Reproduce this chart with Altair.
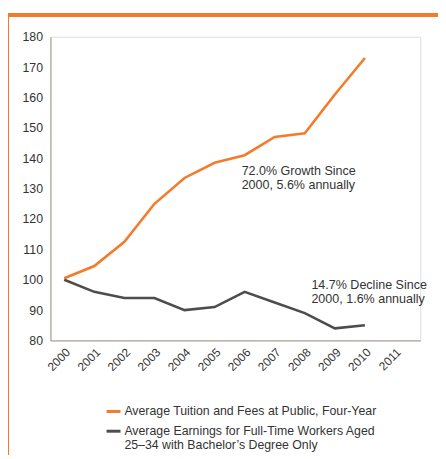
import altair as alt
import pandas as pd

years = [2000, 2001, 2002, 2003, 2004, 2005, 2006, 2007, 2008, 2009, 2010]
tuition = [100.5, 104.5, 112.5, 125.0, 133.5, 138.5, 141.0, 147.0, 148.2, 161.0, 173.0]
earnings = [100.0, 96.0, 94.0, 94.0, 90.0, 91.0, 96.0, 92.5, 89.0, 84.0, 85.0]
series_names = [
    "Average Tuition and Fees at Public, Four-Year",
    "Average Earnings for Full-Time Workers Aged 25–34 with Bachelor’s Degree Only",
]
series_colors = ["#f47b2a", "#4d4d4d"]
tick_years = list(range(2000, 2012))
y_ticks = list(range(80, 181, 10))

ann_text = ["72.0% Growth Since\n2000, 5.6% annually", "14.7% Decline Since\n2000, 1.6% annually"]
ann_year = [2005.9, 2008.22]
ann_value = [135.8, 98.3]

rows = []
for y, t, e in zip(years, tuition, earnings):
    rows.append({"year": y, "value": t, "series": series_names[0]})
    rows.append({"year": y, "value": e, "series": series_names[1]})
df = pd.DataFrame(rows)
ann = pd.DataFrame({"year": ann_year, "value": ann_value, "text": ann_text})

FONT = "Liberation Sans"
ORANGE = "#f47b2a"

x_scale = alt.Scale(domain=[1999.54, 2011.84], nice=False, zero=False)
y_scale = alt.Scale(domain=[80, 180], nice=False, zero=False)

x_axis = alt.Axis(values=tick_years, format="d", labelAngle=315, ticks=False,
                  grid=False, domainColor="#b3a89e", domainWidth=1.3,
                  labelFont=FONT, labelFontSize=12, labelColor="#333333",
                  labelPadding=6, labelOverlap=False)
y_axis = alt.Axis(values=y_ticks, ticks=False, grid=False, domainColor="#b3a89e",
                  domainWidth=1.3, labelFont=FONT, labelFontSize=12.5,
                  labelColor="#333333", labelPadding=8, labelOverlap=False)

label_expr = ("datum.label == '" + series_names[1] + "' ? "
              "['Average Earnings for Full-Time Workers Aged', '25–34 with Bachelor’s Degree Only'] : datum.label")

lines = alt.Chart(df).mark_line(strokeWidth=2.6).encode(
    x=alt.X("year:Q", scale=x_scale, title=None, axis=x_axis),
    y=alt.Y("value:Q", scale=y_scale, title=None, axis=y_axis),
    color=alt.Color("series:N", scale=alt.Scale(domain=series_names, range=series_colors),
                    sort=series_names, title=None,
                    legend=alt.Legend(orient="none", legendX=55, legendY=371,
                                      direction="vertical", symbolType="stroke",
                                      symbolSize=200, symbolStrokeWidth=3,
                                      labelFont=FONT, labelFontSize=12.5, labelColor="#333333",
                                      labelLimit=400, labelOffset=2, rowPadding=4,
                                      labelBaseline="middle", labelExpr=label_expr)),
)

texts = alt.Chart(ann).mark_text(align="left", baseline="middle", font=FONT, fontSize=12.7,
                                 color="#333333", lineBreak="\n", lineHeight=14.5).encode(
    x=alt.X("year:Q", scale=x_scale, title=None, axis=x_axis),
    y=alt.Y("value:Q", scale=y_scale, title=None, axis=y_axis),
    text="text:N",
)

border_top = alt.Chart(df).mark_rule(color=ORANGE, strokeWidth=2.5).encode(
    x=alt.value(-44), x2=alt.value(420), y=alt.value(-22))
border_left = alt.Chart(df).mark_rule(color=ORANGE, strokeWidth=2.5).encode(
    x=alt.value(-44), y=alt.value(-23), y2=alt.value(430))

chart = alt.layer(border_top, border_left, lines, texts).properties(
    width=375, height=308,
    autosize=alt.AutoSizeParams(type="none"),
    padding={"left": 43, "top": 26, "right": 18, "bottom": 113},
).configure_view(strokeWidth=0, stroke="transparent").configure(background="white")

chart.save("out.html", embed_options={"renderer": "svg", "actions": False})
